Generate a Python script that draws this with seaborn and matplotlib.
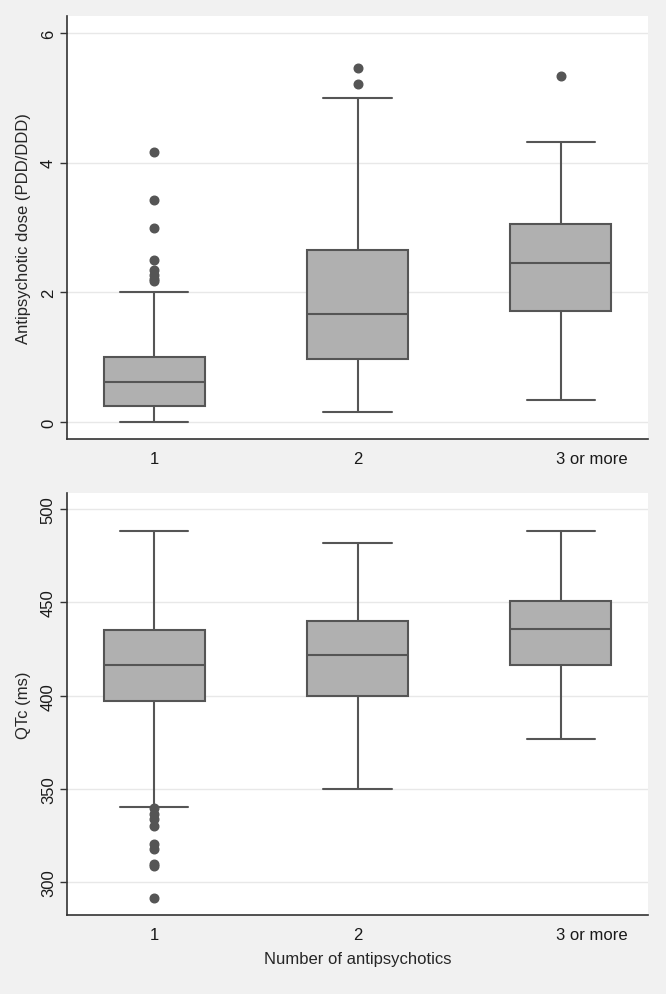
import numpy as np
import pandas as pd
import matplotlib
matplotlib.use("Agg")
import matplotlib.pyplot as plt
import matplotlib.transforms as mtransforms
import seaborn as sns

# Categorias
groups = ["1", "2", "3 or more"]

# Dose de antipsicótico (PDD/DDD) - estatísticas
dose_low = [0.0, 0.15, 0.335]
dose_q1 = [0.25, 0.977, 1.708]
dose_med = [0.62, 1.662, 2.449]
dose_q3 = [1.0, 2.66, 3.055]
dose_high = [2.0, 4.995, 4.32]
dose_out = [[4.17, 3.43, 3.0, 2.5, 2.35, 2.27, 2.2, 2.17], [5.46, 5.21], [5.335]]

# QTc (ms)
qtc_low = [340.1, 350.1, 376.9]
qtc_q1 = [397.3, 400.0, 416.5]
qtc_med = [416.5, 422.0, 436.0]
qtc_q3 = [435.3, 439.9, 450.7]
qtc_high = [488.5, 481.8, 488.5]
qtc_out = [[339.7, 336.5, 333.8, 330.2, 320.3, 317.6, 309.6, 308.7, 291.4], [], []]


def build(low, q1, med, q3, high, out, name):
    # amostra que reproduz os quartis, bigodes e outliers
    rows = []
    for i, g in enumerate(groups):
        vals = [low[i]] + [q1[i]] * 20 + [med[i]] * 20 + [q3[i]] * 20 + [high[i]] + list(out[i])
        rows += [(g, v) for v in vals]
    return pd.DataFrame(rows, columns=["group", name])


df_dose = build(dose_low, dose_q1, dose_med, dose_q3, dose_high, dose_out, "dose")
df_qtc = build(qtc_low, qtc_q1, qtc_med, qtc_q3, qtc_high, qtc_out, "qtc")

sns.set_style("white")
plt.rcParams["font.family"] = ["Liberation Sans", "DejaVu Sans"]

bg = "#f1f1f1"
edge = "#555555"
fs = 12
fig = plt.figure(figsize=(6.66, 9.95), dpi=100, facecolor=bg)
ax1 = fig.add_axes([0.1006, 0.5578, 0.8724, 0.4251])
ax2 = fig.add_axes([0.1006, 0.0797, 0.8724, 0.4238])

box_kw = dict(
    order=groups, width=0.5, color="#b0b0b0", linecolor=edge, linewidth=1.5,
    capwidths=0.335, saturation=1, whis=1.51,
    flierprops=dict(marker="o", markersize=6.2, markerfacecolor=edge, markeredgecolor=edge),
)

sns.boxplot(data=df_dose, x="group", y="dose", ax=ax1, **box_kw)
sns.boxplot(data=df_qtc, x="group", y="qtc", ax=ax2, **box_kw)

ax1.set_ylim(-0.26, 6.26)
ax1.set_yticks([0, 2, 4, 6])
ax1.set_ylabel("Antipsychotic dose (PDD/DDD)", fontsize=fs, labelpad=7)
ax1.set_xlabel("")

ax2.set_ylim(282.5, 508.7)
ax2.set_yticks([300, 350, 400, 450, 500])
ax2.set_ylabel("QTc (ms)", fontsize=fs, labelpad=7)
ax2.set_xlabel("Number of antipsychotics", fontsize=fs, labelpad=7)

shift = mtransforms.ScaledTranslation(-0.05, 0, fig.dpi_scale_trans)

for ax in (ax1, ax2):
    ax.set_facecolor("white")
    ax.set_xlim(-0.43, 2.43)
    ax.set_axisbelow(True)
    ax.yaxis.grid(True, color="#e8e8e8", linewidth=1)
    ax.xaxis.grid(False)
    for s in ("top", "right"):
        ax.spines[s].set_visible(False)
    for s in ("left", "bottom"):
        ax.spines[s].set_color("#333333")
        ax.spines[s].set_linewidth(1.2)
    ax.tick_params(axis="y", left=True, length=5, width=1, color="#333333",
                   labelsize=fs, labelcolor="#1a1a1a", pad=3)
    ax.tick_params(axis="x", bottom=False, labelsize=fs, labelcolor="#1a1a1a", pad=5)
    for t in ax.get_yticklabels():
        t.set_rotation(90)
        t.set_va("center")
    labs = ax.get_xticklabels()
    labs[2].set_horizontalalignment("left")
    labs[2].set_transform(labs[2].get_transform() + shift)

fig.savefig("out.png", dpi=100, facecolor=bg)
